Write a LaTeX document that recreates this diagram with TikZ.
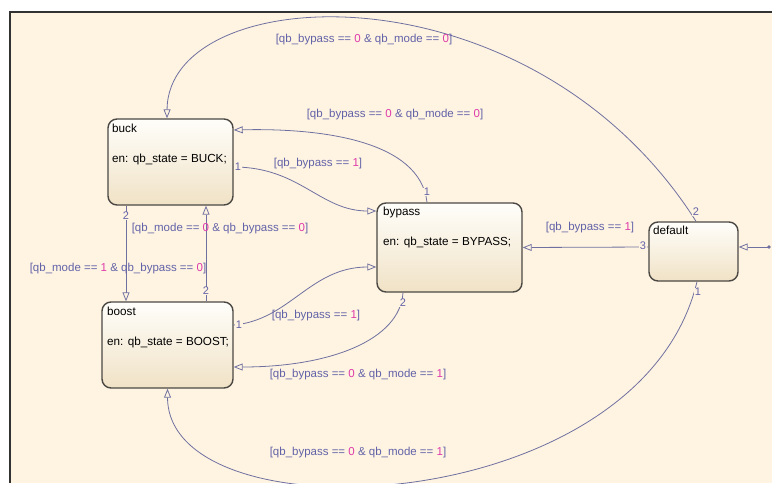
\documentclass[tikz,border=0pt]{standalone}
\usepackage{fontspec}
\setmainfont{Liberation Sans}
\usetikzlibrary{arrows.meta,calc,positioning}

\definecolor{chartbg}{RGB}{255,244,226}
\definecolor{framecol}{RGB}{50,50,50}
\definecolor{stateborder}{RGB}{75,72,68}
\definecolor{statetop}{RGB}{255,254,250}
\definecolor{statebot}{RGB}{240,226,198}
\definecolor{transline}{RGB}{112,112,160}
\definecolor{guardtext}{RGB}{98,98,168}
\definecolor{guardnum}{RGB}{222,60,170}

\newcommand{\gn}[1]{\textcolor{guardnum}{#1}}

\begin{document}
\begin{tikzpicture}[x=1pt,y=-1pt,
state/.style={draw=stateborder,line width=1.4pt,rounded corners=9pt,
  top color=statetop,bottom color=statebot,inner sep=0pt},
stext/.style={anchor=base west,inner sep=0pt,font=\fontsize{11.7}{13}\selectfont},
trans/.style={draw=transline,line width=0.8pt,-{Triangle[open,length=9pt,width=7pt]}},
guard/.style={text=guardtext,inner sep=1pt,font=\fontsize{11.5}{13}\selectfont},
tnum/.style={text=guardtext,fill=chartbg,inner sep=0.6pt,font=\fontsize{11}{12}\selectfont}]
\useasboundingbox (0,0) rectangle (772,483);
\fill[white] (0,0) rectangle (772,483);
\fill[chartbg] (10,12) rectangle (772,483);
\draw[framecol,line width=2pt] (10,483) -- (10,12) -- (772,12);

% states
\node[state,minimum width=125pt,minimum height=86pt] (buck) at (170.5,162) {};
\node[state,minimum width=131pt,minimum height=86pt] (boost) at (167.5,345) {};
\node[state,minimum width=145pt,minimum height=89pt] (bypass) at (449.5,247.5) {};
\node[state,minimum width=89pt,minimum height=59pt] (default) at (693.5,251.5) {};

\node[stext] (bucktitle) at (112,132) {buck};
\node[stext] (buckaction) at (112,162) {en: qb\_state = BUCK;};
\node[stext] (boosttitle) at (107,315) {boost};
\node[stext] (boostaction) at (107,345) {en: qb\_state = BOOST;};
\node[stext] (bypasstitle) at (383,215) {bypass};
\node[stext] (bypassaction) at (383,245) {en: qb\_state = BYPASS;};
\node[stext] (defaulttitle) at (653,234) {default};

% default transition
\coordinate (entry) at (769,247);
\fill[transline] (entry) circle (1.8pt);
\draw[trans] (entry) -- ([yshift=4.5pt]default.east);

% transitions
\draw[trans] ([xshift=2.5pt]default.north) .. controls (530,-40) and (168,-20) .. ([xshift=-3.5pt]buck.north);
\draw[trans] ([yshift=4.5pt]default.west) -- (bypass.east);
\draw[trans] ([xshift=3.5pt]default.south) .. controls (640,520) and (168,540) .. (boost.south);
\draw[trans] ([xshift=-22.5pt]bypass.north) .. controls (420,140) and (320,128) .. ([yshift=32pt]buck.east);
\draw[trans] ([yshift=-5pt]buck.east) .. controls (300,167) and (320,211) .. ([yshift=36.5pt]bypass.west);
\draw[trans] ([xshift=-44.5pt]buck.south) -- ([xshift=-41.5pt]boost.north);
\draw[trans] ([xshift=38.5pt]boost.north) -- ([xshift=35.5pt]buck.south);
\draw[trans] ([yshift=20pt]boost.east) .. controls (290,320) and (310,267) .. ([yshift=-19.5pt]bypass.west);
\draw[trans] ([xshift=-46.5pt]bypass.south) .. controls (400,340) and (330,367) .. ([yshift=-22pt]boost.east);

% execution order
\node[tnum] (o1) at (696,212) {2};
\node[tnum] (o2) at (643,246) {3};
\node[tnum] (o3) at (698,292) {1};
\node[tnum] (o4) at (427,192) {1};
\node[tnum] (o5) at (238,167) {1};
\node[tnum] (o6) at (126,216) {2};
\node[tnum] (o7) at (206,291) {2};
\node[tnum] (o8) at (239,325) {1};
\node[tnum] (o9) at (403,303) {2};

% guards
\node[guard] (g1) at (364,40) {[qb\_bypass == \gn{0} \& qb\_mode == \gn{0}]};
\node[guard] (g2) at (590,228) {[qb\_bypass == \gn{1}]};
\node[guard] (g3) at (358,453) {[qb\_bypass == \gn{0} \& qb\_mode == \gn{1}]};
\node[guard] (g4) at (395,115) {[qb\_bypass == \gn{0} \& qb\_mode == \gn{0}]};
\node[guard] (g5) at (318,164) {[qb\_bypass == \gn{1}]};
\node[guard] (g6) at (118,269) {[qb\_mode == \gn{1} \& qb\_bypass == \gn{0}]};
\node[guard] (g7) at (220,229) {[qb\_mode == \gn{0} \& qb\_bypass == \gn{0}]};
\node[guard] (g8) at (316,316) {[qb\_bypass == \gn{1}]};
\node[guard] (g9) at (358,375) {[qb\_bypass == \gn{0} \& qb\_mode == \gn{1}]};
\end{tikzpicture}
\end{document}
